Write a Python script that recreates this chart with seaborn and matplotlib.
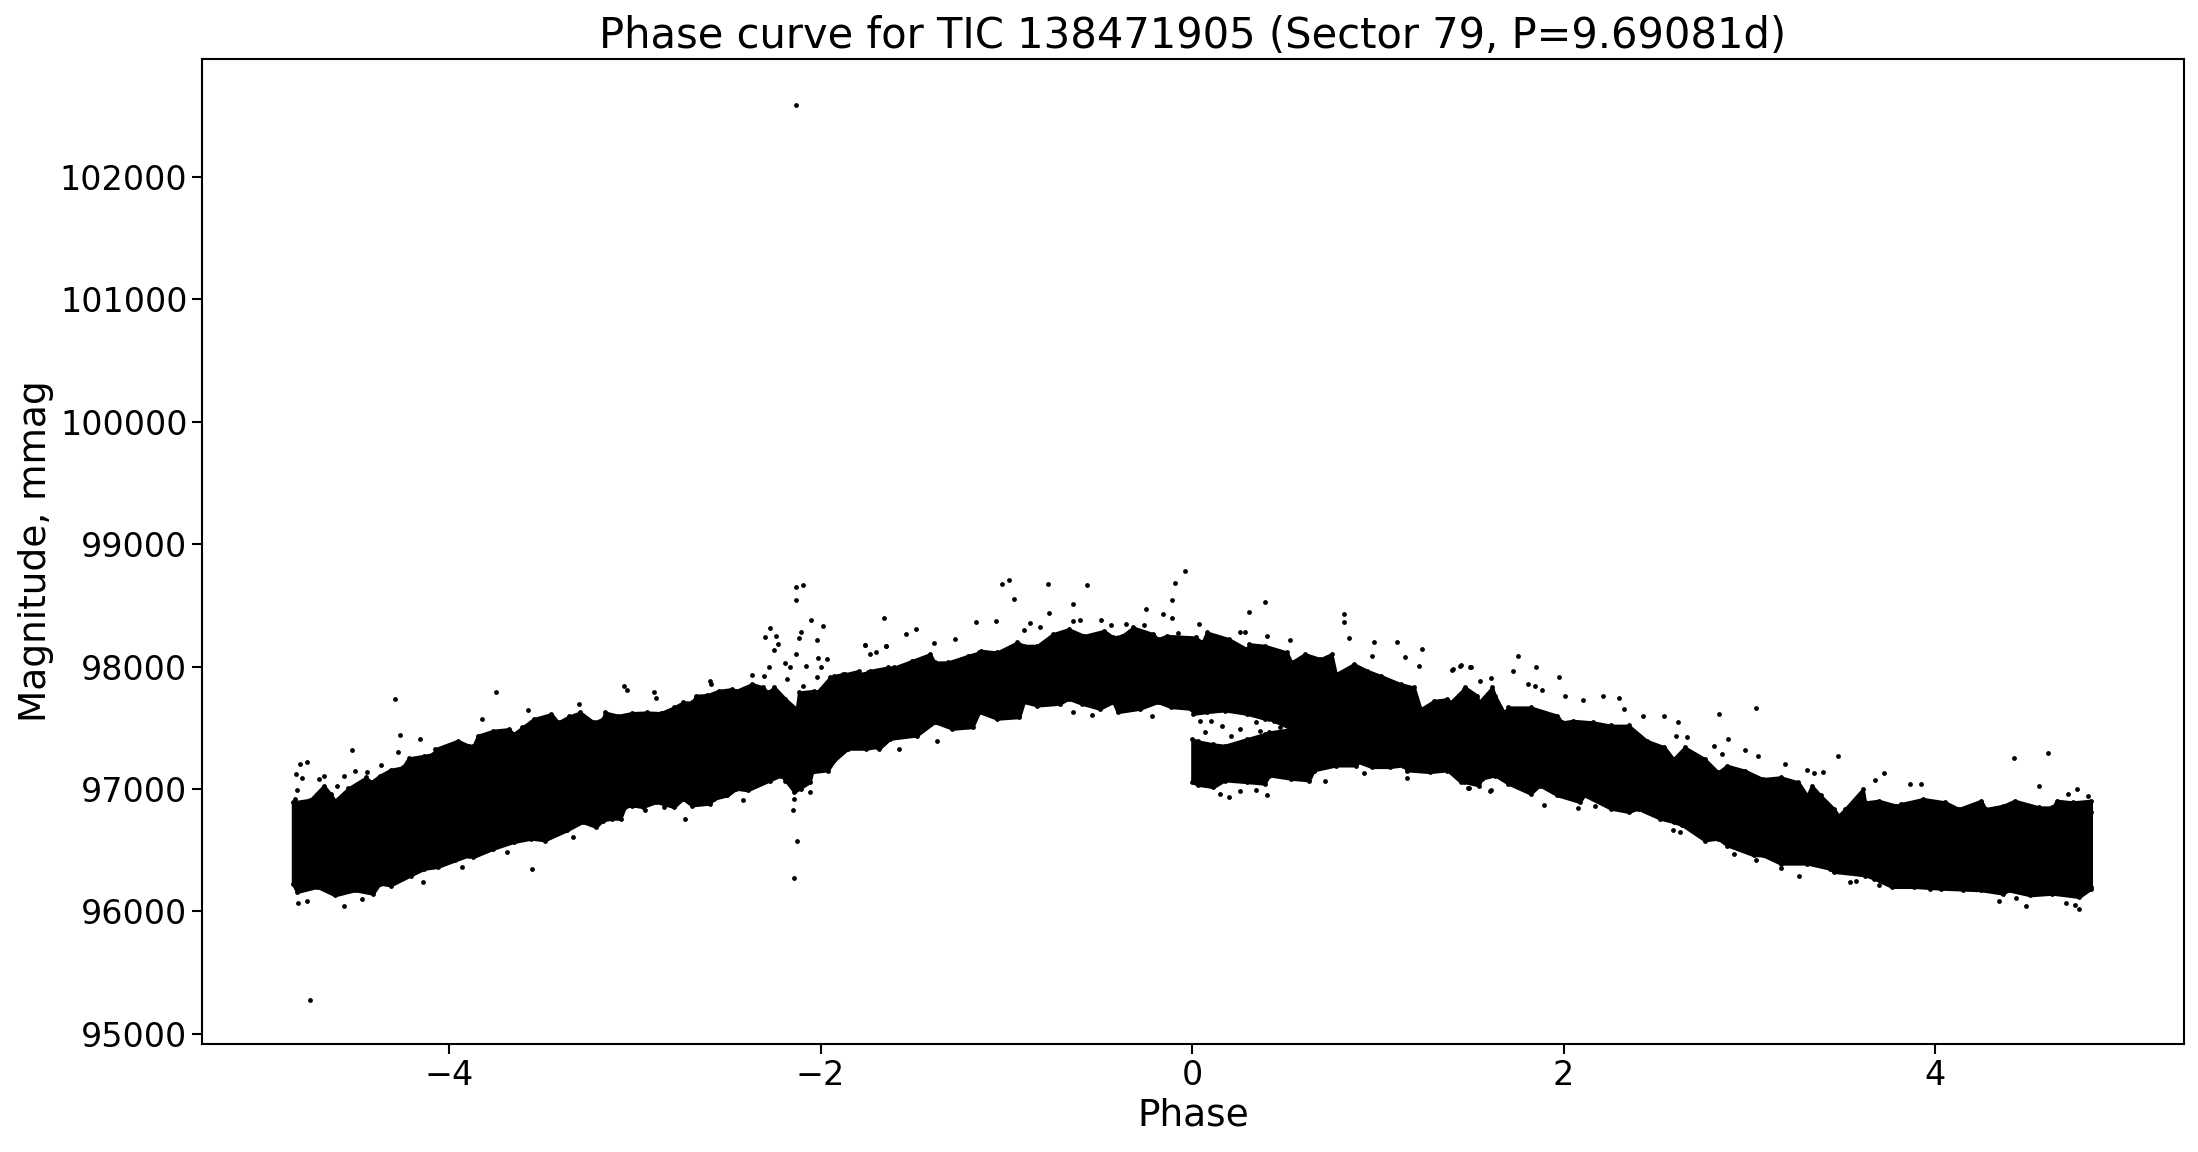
import matplotlib
matplotlib.use("Agg")
import matplotlib.pyplot as plt
import pandas as pd
import seaborn as sns

sns.set_style("ticks")
plt.rcParams["font.family"] = ["DejaVu Sans"]
for key in ["text.color", "axes.labelcolor", "xtick.color", "ytick.color", "axes.edgecolor"]:
    plt.rcParams[key] = "black"

TITLE = "Phase curve for TIC 138471905 (Sector 79, P=9.69081d)"

# Envelope of the dense main band (phase, magnitude in mmag)
upper_phase = [-4.842,-4.614,-4.42,-4.25,-4.085,-3.893,-3.653,-3.413,-3.173,-2.933,-2.693,-2.453,-2.285,-2.129,-2.02,-1.925,-1.746,-1.386,-1.146,-0.905,-0.665,-0.425,-0.185,0.055,0.295,0.535,0.775,1.015,1.231,1.391,1.463,1.679,1.991,2.351,2.592,2.832,3.072,3.312,3.48,3.624,3.792,4.272,4.632,4.84]
upper_mag = [96891,96905,97055,97177,97286,97354,97449,97545,97572,97613,97708,97803,97790,97654,97790,97926,97953,98035,98116,98171,98239,98239,98225,98198,98143,98035,97939,97844,97653,97708,97817,97627,97545,97436,97245,97136,97055,96946,96782,96891,96864,96837,96850,96810]
lower_phase = [-4.842,-4.614,-4.373,-4.133,-3.893,-3.653,-3.485,-3.173,-3.053,-2.885,-2.741,-2.573,-2.453,-2.213,-2.141,-2.045,-1.925,-1.853,-1.626,-1.386,-1.146,-0.905,-0.665,-0.425,-0.185,-0.005,0.175,0.415,0.535,0.655,0.895,1.135,1.375,1.631,1.871,2.111,2.399,2.592,2.832,3.072,3.432,3.672,4.032,4.392,4.632,4.84]
lower_mag = [96224,96170,96224,96346,96455,96578,96673,96741,96850,96959,96918,96918,97000,97109,96973,97136,97272,97354,97435,97544,97626,97708,97735,97708,97708,97653,97640,97572,97490,97150,97218,97190,97150,97109,97027,96946,96837,96728,96592,96456,96347,96265,96211,96170,96170,96197]

# The second branch that starts at phase 0
branch_phase = [0.0,0.031,0.115,0.175,0.295,0.391,0.415,0.535,0.631,0.655]
branch_top = [97408,97390,97365,97354,97408,97450,97463,97490,97545,97560]
branch_bottom = [97054,97032,97013,97068,97054,97041,97109,97081,97068,97150]

# Ragged points along the top edge of the band
top_edge_phase = [-4.746,-4.674,-4.638,-4.542,-4.446,-4.374,-4.314,-4.218,-4.133,-4.073,-3.953,-3.869,-3.845,-3.761,-3.677,-3.605,-3.545,-3.449,-3.353,-3.293,-3.221,-3.161,-3.089,-3.017,-2.933,-2.861,-2.789,-2.741,-2.669,-2.609,-2.549,-2.477,-2.369,-2.309,-2.248,-2.189,-2.117,-2.033,-1.949,-1.877,-1.793,-1.732,-1.636,
 -1.866,-1.794,-1.602,-1.506,-1.410,-1.314,-1.206,-1.134,-1.050,-0.941,-0.833,-0.749,-0.665,-0.581,-0.473,-0.377,-0.317,-0.209,-0.137,0.019,0.079,0.199,0.307,0.391,0.511,0.607,0.691,0.751,0.871,0.943,1.015,1.123,1.195,1.303,1.375,1.471,1.544,1.616,
 1.535,1.631,1.703,1.823,1.967,2.051,2.159,2.255,2.351,2.447,2.543,2.652,2.760,2.880,2.976,3.072,3.168,3.264,3.336,3.384,3.456,3.516,3.612,3.696,3.816,3.936,4.056,4.128,4.248,4.368,4.428,4.560,4.656,4.740,4.84]
top_edge_mag = [96913,97027,96959,97006,97095,97109,97158,97251,97272,97327,97395,97354,97436,97477,97490,97504,97572,97613,97594,97626,97545,97626,97599,97621,97626,97621,97667,97708,97763,97768,97803,97817,97858,97831,97831,97735,97790,97803,97912,97940,97940,97967,97994,
 97939,97966,97994,98048,98103,98035,98089,98130,98116,98198,98171,98266,98307,98252,98293,98252,98320,98266,98252,98239,98280,98225,98184,98171,98116,98103,98062,98103,98021,97966,97925,97857,97830,97721,97735,97830,97708,97830,
 97763,97763,97667,97667,97599,97558,97545,97518,97518,97395,97341,97341,97245,97191,97150,97082,97096,97055,97027,96946,96837,96837,97000,96905,96878,96919,96891,96837,96905,96864,96905,96850,96905,96891,96905]

# Ragged points along the bottom edge of the band
bottom_edge_phase = [-4.818,-4.710,-4.614,-4.506,-4.410,-4.314,-4.206,-4.062,-3.966,-3.869,-3.761,-3.653,-3.557,-3.485,-3.365,-3.281,-3.209,-3.125,-3.077,-3.017,-2.957,-2.885,-2.789,-2.693,-2.597,-2.501,-2.393,-2.273,-2.189,-2.057,-1.961,-1.925,-1.853,-1.757,-1.684,
 -1.698,-1.626,-1.482,-1.290,-1.182,-1.050,-0.930,-0.833,-0.713,-0.593,-0.497,-0.401,-0.281,-0.113,0.007,0.079,0.295,0.391,
 0.775,0.883,0.967,1.063,1.159,1.279,1.447,1.544,
 1.463,1.559,1.703,1.823,1.967,2.087,2.255,2.351,2.520,2.640,2.760,2.880,3.024,3.168,3.312,3.456,3.624,3.768,3.888,4.032,4.248,4.368,4.512,4.632,4.776,4.84]
bottom_edge_mag = [96156,96197,96129,96170,96142,96210,96292,96360,96415,96442,96510,96564,96592,96578,96660,96728,96687,96755,96755,96864,96850,96891,96850,96864,96878,96946,96987,97068,97068,97055,97150,97232,97327,97327,97327,
 97340,97408,97435,97490,97503,97572,97585,97680,97694,97694,97653,97626,97653,97667,97612,97626,97612,97572,
 97190,97190,97177,97177,97150,97136,97054,97027,
 97055,97082,97041,96959,96946,96891,96837,96810,96755,96701,96578,96537,96456,96388,96388,96320,96292,96197,96197,96183,96170,96142,96129,96142,96115,96183]

# Individually visible points
point_phase = [-4.751,-2.134,-4.290,-3.747,-3.058,-3.041,-2.897,-2.885,-2.594,-2.590,-2.131,-2.095,-2.131,-2.273,-2.297,-2.241,-2.230,-2.251,-2.052,-1.987,-2.105,-2.117,-2.018,-1.658,-1.648,-1.761,-1.704,-1.732,-2.133,-2.013,-1.965,-2.191,-2.165,-2.081,-1.997,-2.277,-2.369,-2.304,-2.181,-2.021,-2.093,-3.300,-3.574,-3.821,-4.263,-4.155,-4.525,-4.273,-4.767,-4.801,-4.823,-4.789,-4.698,-4.674,-4.566,-4.508,-4.441,-4.369,-4.818,-4.830,-4.602,-2.126,-2.143,-2.146,-2.141,-2.129,-2.105,-2.057,-3.552,-4.568,-4.815,-4.765,-4.467,-2.729,-2.417,-4.138,-3.929,-3.687,-3.332,-2.945,-2.842,
 -1.023,-0.987,-0.958,-0.776,-0.567,-0.641,-0.771,-0.039,-0.094,-0.108,-0.250,-0.156,-0.108,0.391,0.309,0.036,0.816,0.816,0.847,0.977,1.102,1.236,1.145,0.967,1.224,0.526,0.403,-1.487,-1.539,-1.278,-1.390,-1.647,-1.760,-1.162,-1.057,-0.872,-0.905,-0.819,-0.641,-0.605,-0.490,-0.437,-0.353,-0.257,-0.077,0.259,0.283,1.399,1.443,1.496,-1.578,-1.374,-0.538,-0.641,-0.216,0.201,0.403,0.151,0.259,0.343,1.159,1.488,1.604,0.924,0.715,0.043,0.103,0.067,0.163,0.259,0.343,0.439,0.367,0.211,0.475,
 1.754,1.850,1.974,1.727,1.811,1.847,1.883,2.006,2.107,2.210,2.301,2.323,2.426,2.539,2.618,2.839,3.038,2.887,3.480,3.727,3.679,3.864,3.922,4.426,4.608,4.560,4.764,4.716,4.824,3.192,2.976,3.048,2.851,2.808,2.664,2.604,3.396,3.348,3.312,1.549,1.607,1.449,1.499,1.403,1.893,2.080,2.167,1.489,1.607,2.628,2.587,2.920,3.038,3.168,3.269,3.540,3.576,3.696,4.344,4.488,4.435,4.704,4.776,4.752,3.972,4.152]
point_mag = [95274,102593,97733,97790,97844,97812,97790,97746,97880,97855,98648,98664,98541,98313,98239,98253,98182,98133,98378,98329,98280,98231,98215,98394,98166,98174,98122,98106,98103,98068,98059,98029,97994,98002,97994,97994,97929,97926,97896,97912,97839,97692,97643,97569,97438,97406,97316,97300,97218,97202,97120,97087,97082,97104,97104,97144,97136,97199,96990,96918,97022,96578,96270,96831,96918,97027,97000,96973,96344,96042,96066,96083,96102,96752,96907,96243,96360,96488,96605,96831,96850,
 98672,98704,98549,98672,98663,98508,98435,98778,98680,98541,98467,98427,98394,98525,98443,98345,98427,98361,98231,98198,98198,98141,98075,98089,98002,98214,98252,98304,98263,98225,98190,98165,98173,98361,98369,98353,98301,98320,98375,98383,98378,98339,98345,98339,98271,98280,98285,97975,98007,97994,97324,97395,97604,97626,97599,96932,96953,96959,96986,96994,97087,97005,96986,97128,97068,97558,97558,97463,97517,97490,97544,97558,97476,97435,97504,
 98084,97994,97912,97962,97855,97839,97806,97757,97725,97757,97741,97651,97594,97594,97545,97610,97659,97406,97267,97128,97071,97038,97038,97251,97292,97022,96998,96959,96940,97202,97316,97267,97283,97349,97422,97431,97136,97131,97158,97880,97904,98010,97994,97978,96867,96842,96864,97006,96987,96646,96663,96467,96418,96352,96287,96238,96251,96211,96080,96042,96107,96066,96017,96053,96178,96170]


def edge_series(phase_a, mag_a, phase_b, mag_b, keep):
    """Merge two read-off edges into one series, sorted by phase."""
    table = pd.DataFrame({"phase": phase_a + phase_b, "mag": mag_a + mag_b})
    return table.groupby("phase")["mag"].agg(keep).sort_index()


fig = plt.figure(figsize=(21.98, 11.52), dpi=100)
ax = fig.add_axes([202/2198, 1-1044/1152, (2184-202)/2198, (1044-59)/1152])

# Solid band through all the points read along its edges
top = edge_series(upper_phase, upper_mag, top_edge_phase, top_edge_mag, "max")
bottom = edge_series(lower_phase, lower_mag, bottom_edge_phase, bottom_edge_mag, "min")
grid = sorted(set(top.index) | set(bottom.index))
env = pd.DataFrame({"phase": grid})
env["top"] = top.reindex(grid).interpolate(method="index").bfill().ffill().values
env["bottom"] = bottom.reindex(grid).interpolate(method="index").bfill().ffill().values
ax.fill_between(env["phase"], env["bottom"], env["top"], color="black", lw=2)
ax.fill_between(branch_phase, branch_bottom, branch_top, color="black", lw=2)

edge = pd.DataFrame({
    "phase": upper_phase + lower_phase + branch_phase + branch_phase + top_edge_phase + bottom_edge_phase + point_phase,
    "mag": upper_mag + lower_mag + branch_top + branch_bottom + top_edge_mag + bottom_edge_mag + point_mag,
})
sns.scatterplot(data=edge, x="phase", y="mag", color="black", s=12, linewidth=0, ax=ax, zorder=3)

ax.set_xlim(-5.33, 5.34)
ax.set_ylim(94915, 102965)
ax.set_xticks([-4, -2, 0, 2, 4])
ax.set_yticks([95000, 96000, 97000, 98000, 99000, 100000, 101000, 102000])
ax.tick_params(labelsize=24, length=7, width=1.5)
ax.set_xlabel("Phase", fontsize=27)
ax.set_ylabel("Magnitude, mmag", fontsize=27)
ax.set_title(TITLE, fontsize=30, pad=8)
for s in ax.spines.values():
    s.set_visible(True)
    s.set_linewidth(1.5)
fig.savefig("out.png", dpi=100)
